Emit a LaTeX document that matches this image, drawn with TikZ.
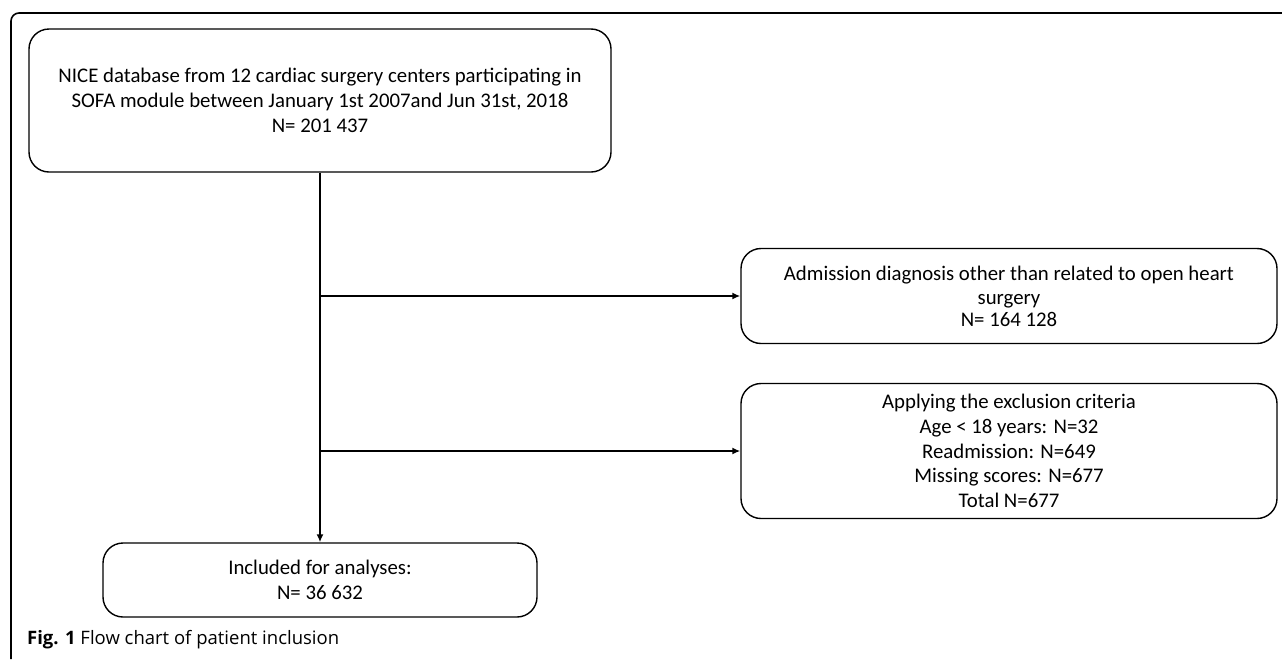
\documentclass[tikz,border=0pt]{standalone}
\usepackage{fontspec}
\setmainfont{Carlito}
\newfontfamily\capfont{Open Sans}
\usetikzlibrary{arrows.meta,positioning,calc}

\tikzset{
    flowbox/.style={draw, line width=1.4pt, rounded corners=20pt, align=center,
        font=\fontsize{20.8}{24.8}\selectfont, inner sep=0pt},
    flowarrow/.style={line width=1.8pt, -{Latex[length=8pt,width=7pt]}},
}

\begin{document}
\begin{tikzpicture}[x=1pt,y=-1pt]
    \useasboundingbox (0,0) rectangle (1282,659);

    % outer frame, cut off on the right and at the bottom
    \draw[line width=1.6pt, rounded corners=8pt] (11,659) -- (11,13) -- (1282,13);

    \node[flowbox, minimum width=582pt, minimum height=143pt] (nice) at (320,100.5)
        {NICE database from 12 cardiac surgery centers participating in\\
         SOFA module between January 1st 2007and Jun 31st, 2018\\
         N= 201 437};

    \node[flowbox, minimum width=536pt, minimum height=95pt] (other) at (1009,296)
        {Admission diagnosis other than related to open heart\\
         surgery\\[-3.5pt]
         N= 164 128};

    \node[flowbox, minimum width=536pt, minimum height=135pt] (excl) at (1009,451)
        {Applying the exclusion criteria\\
         Age < 18 years: N=32\\
         Readmission: N=649\\
         Missing scores: N=677\\
         Total N=677};

    \node[flowbox, minimum width=434pt, minimum height=74pt] (incl) at (320,580)
        {Included for analyses:\\
         N= 36 632};

    % branches
    \coordinate (b1) at (nice.south |- other.west);
    \coordinate (b2) at (nice.south |- excl.west);
    \draw[flowarrow] (nice.south) -- (incl.north);
    \draw[flowarrow] (b1) -- (other.west);
    \draw[flowarrow] (b2) -- (excl.west);

    \node[anchor=base west, font=\capfont\fontsize{18.5}{22}\selectfont, inner sep=0pt] (cap) at (27,644)
        {\textbf{Fig. 1} Flow chart of patient inclusion};
\end{tikzpicture}
\end{document}
